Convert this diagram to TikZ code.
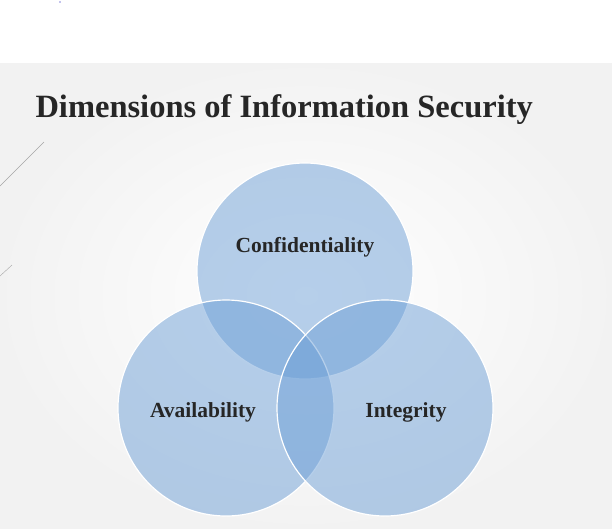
\documentclass[tikz,border=0pt]{standalone}
\usepackage{fontspec}
\setmainfont{Liberation Serif}
\begin{document}
\begin{tikzpicture}[x=1pt,y=-1pt,
  circ/.style={circle,minimum size=216pt,inner sep=0pt,fill={rgb,255:red,110;green,160;blue,215},fill opacity=0.5,draw=white,line width=1.2pt},
  lbl/.style={font=\bfseries\fontsize{21.5}{24}\selectfont,text=black!85}]
\useasboundingbox (0,0) rectangle (612,528);
\fill[white] (0,0) rectangle (612,63);
\shade[inner color=white,outer color=black!5] (0,63) rectangle (612,528);
\fill[blue!70!black] (60,2) circle (0.6);
\draw[black!35,thin] (0,186) -- (44,142);
\draw[black!35,thin] (0,276) -- (12,265);
\node[font=\bfseries\fontsize{32.5}{36}\selectfont,text=black!85,anchor=west] (title) at (32,110) {Dimensions of Information Security};
\node[circ] (c) at (305,271) {};
\node[circ] (a) at (226,408) {};
\node[circ] (i) at (385,408) {};
\node[lbl] at (305,247) {Confidentiality};
\node[lbl] at (203,412) {Availability};
\node[lbl] at (406,412) {Integrity};
\end{tikzpicture}
\end{document}
